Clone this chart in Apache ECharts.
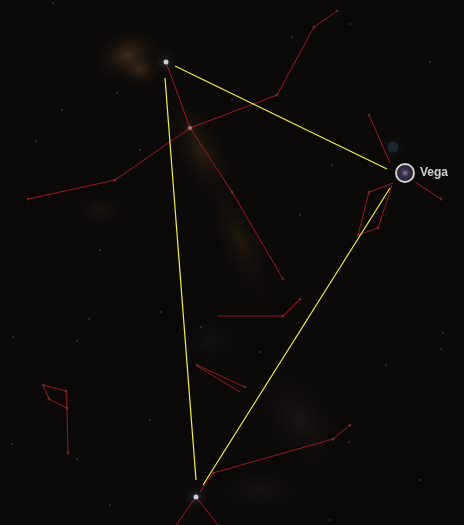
<!DOCTYPE html>
<html lang="en">
<head>
	<meta charset="UTF-8">
	<title>Summer Triangle</title>
	<script type="text/javascript" src="https://cdn.jsdelivr.net/npm/echarts@6/dist/echarts.min.js"></script>
	<style>
		html, body { margin: 0; padding: 0; background: #0b0908; }
	</style>
</head>
<body>
	<div id="sky" style="width: 464px;height: 525px;"></div>

	<script type="text/javascript">
		// star positions, picture pixels (x right, y down)
		var deneb = [166, 62];
		var vega = [405, 173];
		var altair = [196, 497];
		var sadr = [190, 128];

		// yellow triangle, stopped short of each star
		var triangleLines = [
			[[175, 66], [387, 169]],
			[[165, 78], [196, 480]],
			[[390, 188], [203, 485]]
		];

		// red constellation figures
		var cygnusBody = [[166, 62], [190, 128], [232, 192], [283, 279]];
		var cygnusWings = [[28, 199], [115, 180], [190, 128], [277, 95], [314, 27], [337, 11]];
		var lyraTop = [[369, 115], [390, 163]];
		var lyraSide = [[415, 182], [441, 199]];
		var lyraBox = [[393, 183], [369, 192], [358, 235], [378, 228], [392, 185]];
		var midFigure = [[218, 316], [283, 316], [300, 299]];
		var sagittaA = [[197, 365], [245, 387]];
		var sagittaB = [[197, 366], [240, 392]];
		var aquilaArm = [[200, 492], [213, 473], [333, 439], [350, 425]];
		var aquilaLegL = [[196, 497], [176, 525]];
		var aquilaLegR = [[196, 497], [218, 525]];
		var leftFigA = [[43, 385], [66, 391], [67, 408], [68, 453]];
		var leftFigB = [[43, 385], [49, 399], [67, 408]];

		var figureStars = [[28, 199], [115, 180], [277, 95], [314, 27], [337, 11], [232, 192], [283, 279],
			[369, 115], [441, 199], [369, 192], [358, 235], [378, 228], [283, 316], [300, 299],
			[197, 365], [245, 387], [213, 473], [333, 439], [350, 425],
			[43, 385], [66, 391], [49, 399], [67, 408], [68, 453]];

		var faintStars = [[36, 141], [117, 93], [62, 110], [53, 3], [350, 24], [332, 165], [292, 37],
			[430, 62], [89, 319], [77, 341], [161, 312], [201, 327], [13, 337], [12, 444], [77, 459],
			[441, 349], [386, 365], [443, 333], [349, 442], [232, 100], [140, 150], [300, 215], [100, 250],
			[260, 352], [150, 420], [420, 480], [330, 520], [110, 505]];

		var redLines = [cygnusBody, cygnusWings, lyraTop, lyraSide, lyraBox, midFigure, sagittaA, sagittaB,
			aquilaArm, aquilaLegL, aquilaLegR, leftFigA, leftFigB];

		var chart = echarts.init(document.getElementById('sky'));

		var glow = function(cx, cy, rx, ry, rot, color){
			return {
				type: 'circle',
				z: 0,
				silent: true,
				x: cx, y: cy,
				scaleX: rx / 50, scaleY: ry / 50,
				rotation: rot,
				shape: { cx: 0, cy: 0, r: 50 },
				style: {
					fill: {
						type: 'radial', x: 0.5, y: 0.5, r: 0.5,
						colorStops: [{ offset: 0, color: color }, { offset: 1, color: 'rgba(0,0,0,0)' }]
					}
				}
			};
		};

		var series = [];
		redLines.forEach(function(pts){
			series.push({
				type: 'line', data: pts, symbol: 'none', silent: true, z: 3,
				lineStyle: { color: '#9a1520', width: 1 }
			});
		});
		triangleLines.forEach(function(pts){
			series.push({
				type: 'line', data: pts, symbol: 'none', silent: true, z: 4,
				lineStyle: { color: '#f2f23a', width: 1.2 }
			});
		});
		series.push({
			type: 'scatter', data: faintStars, symbolSize: 2, z: 2, silent: true,
			itemStyle: { color: 'rgba(170,175,200,0.3)' }
		});
		series.push({
			type: 'scatter', data: figureStars, symbolSize: 3, z: 5, silent: true,
			itemStyle: { color: 'rgba(190,120,120,0.35)' }
		});
		series.push({
			type: 'scatter', data: [[393, 147]], symbolSize: 11, z: 2, silent: true,
			itemStyle: { color: 'rgba(50,68,100,0.45)', shadowBlur: 6, shadowColor: 'rgba(50,68,100,0.7)' }
		});
		series.push({
			type: 'scatter', data: [deneb, altair], symbolSize: 5, z: 6, silent: true,
			itemStyle: { color: '#f2f4ff', shadowBlur: 10, shadowColor: 'rgba(200,210,255,0.9)' }
		});
		series.push({
			type: 'scatter', data: [sadr], symbolSize: 4, z: 6, silent: true,
			itemStyle: { color: 'rgba(225,180,180,0.7)', shadowBlur: 4, shadowColor: 'rgba(255,200,200,0.5)' }
		});
		series.push({
			type: 'scatter', data: [vega], symbolSize: 18, z: 7, silent: true,
			itemStyle: {
				color: {
					type: 'radial', x: 0.5, y: 0.5, r: 0.5,
					colorStops: [{ offset: 0, color: '#a89cc0' }, { offset: 0.35, color: '#4a3f60' }, { offset: 1, color: '#1c1828' }]
				},
				borderColor: '#ffffff', borderWidth: 2
			},
			label: {
				show: true, position: 'right', distance: 5, formatter: 'Vega',
				color: '#ffffff', fontWeight: 'bold', fontSize: 12, fontFamily: 'Liberation Sans, Arial, sans-serif'
			}
		});

		var option = {
			backgroundColor: '#0b0908',
			animation: false,
			grid: { left: 0, right: 0, top: 0, bottom: 0 },
			xAxis: { type: 'value', min: 0, max: 464, show: false },
			yAxis: { type: 'value', min: 0, max: 525, inverse: true, show: false },
			graphic: [
				glow(128, 55, 40, 28, 0.3, 'rgba(125,90,60,0.45)'),
				glow(140, 70, 25, 20, 0, 'rgba(150,110,70,0.3)'),
				glow(200, 150, 70, 30, -1.1, 'rgba(95,70,48,0.35)'),
				glow(240, 240, 80, 28, -1.2, 'rgba(80,62,45,0.3)'),
				glow(100, 210, 30, 20, 0, 'rgba(70,55,42,0.25)'),
				glow(300, 420, 70, 45, -1.0, 'rgba(60,52,48,0.3)'),
				glow(260, 490, 60, 30, 0, 'rgba(45,40,38,0.3)'),
				glow(210, 340, 40, 30, 0, 'rgba(40,38,40,0.25)')
			],
			series: series
		};
		chart.setOption(option);
	</script>
</body>
</html>
